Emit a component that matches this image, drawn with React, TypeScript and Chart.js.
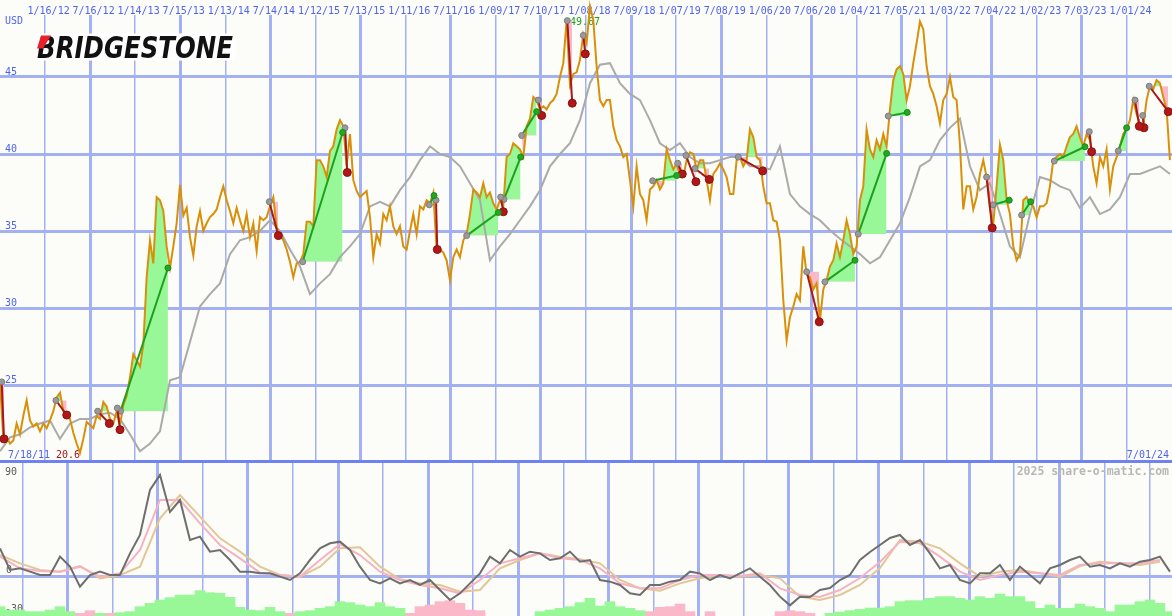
import React, { useEffect, useRef } from 'react';
import { Chart, registerables } from 'chart.js';

Chart.register(...registerables);

// ---------- data ----------
const dateLabels = ['1/16/12','7/16/12','1/14/13','7/15/13','1/13/14','7/14/14','1/12/15','7/13/15','1/11/16','7/11/16','1/09/17','7/10/17','1/08/18','7/09/18','1/07/19','7/08/19','1/06/20','7/06/20','1/04/21','7/05/21','1/03/22','7/04/22','1/02/23','7/03/23','1/01/24'];
const firstDate = '7/18/11';
const lastDate = '7/01/24';
const currency = 'USD';
const priceTicks = [25, 30, 35, 40, 45];
const lowerTickLabels = ['90', '0', '-30'];
const highLabel = '49.67';
const highValue = 49.67;
const highTime = 2018.064;
const lowLabel = '20.6';
const watermark = '2025 share-o-matic.com';

// price samples every ~13.5 days (decimal-year step)
const priceStepYears = 0.036843;
const price = [
  25.2, 21.5, 21.6, 21.2, 21.4, 22.5, 21.8, 23.0, 24.0, 22.7,
  22.3, 22.5, 22.0, 22.5, 22.2, 22.7, 23.3, 24.2, 24.5, 23.3,
  22.9, 22.8, 21.9, 21.2, 20.6, 21.5, 22.6, 22.4, 22.2, 23.0,
  22.8, 23.9, 23.6, 22.8, 22.5, 23.3, 22.4, 23.7, 24.3, 25.5,
  27.0, 26.6, 26.2, 27.6, 32.0, 34.4, 32.9, 37.2, 37.0, 36.3,
  34.0, 32.6, 34.0, 35.5, 38.0, 36.0, 36.5, 34.6, 33.4, 35.3,
  36.3, 35.0, 35.5, 35.9, 36.1, 36.4, 37.2, 37.9, 37.0, 36.3,
  35.5, 36.5, 35.7, 35.0, 36.1, 34.6, 35.5, 33.7, 35.9, 35.7,
  35.9, 36.6, 37.2, 35.2, 34.8, 34.4, 33.8, 33.0,
  32.0, 32.9, 33.0, 33.5, 35.6, 35.6, 35.3, 39.6, 39.6, 39.2,
  38.5, 40.2, 40.5, 41.6, 42.2, 41.8, 39.2, 41.3, 38.3, 37.6,
  37.2, 37.4, 37.6, 35.9, 33.3, 34.8, 34.2, 36.1, 35.7, 36.6,
  35.3, 34.8, 35.3, 34.0, 33.8, 35.0, 36.1, 34.8, 36.6, 36.4,
  37.0, 36.8, 37.5, 33.8, 33.8, 33.6, 33.1, 31.8, 33.3, 33.8,
  33.3, 34.4, 34.8, 36.1, 37.7, 37.5, 37.2, 38.1, 37.2, 37.5,
  36.8, 36.4, 37.0, 36.6, 39.8, 40.0, 40.7, 40.5, 40.3, 39.8,
  41.8, 42.3, 43.7, 43.5, 42.9, 43.1, 42.9, 43.3, 43.5, 43.9,
  45.0, 45.9, 48.7, 44.5, 45.2, 45.3, 46.1,
  47.8, 47.2, 49.6, 48.7, 45.7, 43.5, 43.1, 43.5, 43.5, 41.8,
  40.9, 40.5, 39.8, 40.0, 38.3, 36.6, 39.2, 37.4, 37.0, 35.7,
  37.7, 37.9, 38.3, 37.7, 38.1, 40.3, 39.6, 39.0, 39.4, 38.5,
  38.5, 39.6, 40.1, 40.0, 39.0, 39.6, 39.6, 38.3, 37.0, 38.7,
  39.0, 39.4, 39.0, 38.5, 37.4, 37.4, 39.6, 39.8, 39.2, 39.6,
  41.6, 41.1, 39.8, 39.6, 37.9, 36.8, 36.8, 35.7, 35.6, 34.4,
  30.5, 27.9, 29.4, 30.1, 30.9, 30.5, 34.0, 32.2, 32.0, 31.2,
  31.6, 29.2, 31.2, 31.8, 32.7, 33.1, 34.2, 33.3, 34.4, 35.7,
  34.8, 33.5, 34.0, 37.0, 37.9, 41.6, 40.3,
  39.8, 40.9, 40.3, 41.3, 40.5, 42.9, 44.8, 45.5, 45.7, 45.2,
  43.5, 44.4, 45.9, 47.2, 48.6, 48.1, 45.7, 44.4, 43.9, 43.1,
  42.0, 43.5, 43.9, 45.0, 43.7, 43.5, 40.6, 36.4, 37.9, 37.9,
  36.4, 37.2, 38.7, 39.6, 38.5, 36.5, 35.5, 37.9, 40.6, 39.6,
  37.0, 36.1, 34.0, 33.1, 33.5, 37.0, 37.2, 36.8, 36.6, 35.9,
  36.6, 36.6, 36.8, 37.9, 39.6, 39.8, 40.0, 39.8, 40.5, 41.1,
  41.3, 41.8, 41.1, 40.5, 41.3, 40.9, 39.2, 38.1, 39.8, 39.2,
  40.3, 37.7, 39.2, 39.8, 40.5, 41.3, 41.6, 42.2, 43.5, 42.6,
  42.0, 41.8, 43.5, 44.4, 44.2, 44.8, 44.6, 43.7, 42.9, 39.6,
];

// moving average of price, every 3 price steps
const priceAverage = [
  20.7, 21.6, 21.8, 22.25, 22.5, 22.7, 21.5, 22.5, 22.8, 22.8,
  23.1, 23.2, 22.8, 21.8, 20.7, 21.2, 22.0, 25.3, 25.5, 27.8,
  30.1, 30.9, 31.6, 33.5, 34.4, 34.6, 35.0, 35.7, 35.0, 33.8,
  32.7, 30.9, 31.6, 32.2, 33.3, 34.0, 34.8, 36.6, 36.9, 36.6,
  37.65, 38.5, 39.6, 40.5, 40.0, 39.8, 39.2, 38.1, 37.0, 33.1,
  34.0, 34.8, 35.7, 36.6, 37.65, 39.2, 40.0, 40.7, 42.2, 44.6,
  45.8, 45.9, 44.6, 43.9, 43.5, 42.2, 40.7, 40.25, 40.7, 39.8,
  39.4, 39.4, 39.6, 39.8, 39.8, 39.2, 39.2, 39.0, 40.5, 37.4,
  36.6, 36.1, 35.7, 35.05, 34.5, 34.0, 33.5, 32.9, 33.3, 34.4,
  35.5, 37.2, 39.2, 39.6, 40.9, 41.7, 42.3, 39.2, 37.65, 38.1,
  36.1, 34.0, 33.3, 36.1, 38.5, 38.3, 37.9, 37.65, 36.5, 37.2,
  36.1, 36.4, 37.2, 38.7, 38.7, 38.95, 39.2, 38.7,
];

// momentum oscillator, every 3 price steps
const momentum = [
  20.75, 4.5, 5.75, 3.25, 0.75, 0.75, 14.5, 7, -8, 0.75,
  3.25, 0.75, 0.75, 17, 30.75, 64.5, 75.75, 48, 57, 27,
  29.5, 18.25, 19.5, 12, 3.25, 3.25, 2, 2, -0.5, -3,
  2, 12, 20.75, 24.5, 25.75, 19.5, 7, -3, -5.5, -1.75,
  -5.5, -3, -6.75, -3, -10.5, -18, -13, -5.5, 2, 14.5,
  9.5, 19.5, 14.5, 18.25, 17, 12, 13.25, 18.25, 10.75, 12,
  -3, -4.25, -6.75, -13, -14.25, -6.75, -6.75, -4.25, -3, 3.25,
  2, -3, 0.75, -1.75, 2, 5.75, -0.5, -6.75, -15.5, -22,
  -15.5, -15.75, -10.5, -9, -3, 0.75, 12, 18, 23.25, 28.5,
  30.75, 23.25, 27, 17, 5.75, 8.25, -3, -5.5, 2, 2,
  8.25, -3, 7, 0.75, -5.5, 5.75, 8.25, 12, 14.5, 7,
  8.25, 5.75, 9.5, 7, 10.75, 12, 14.5, 3.25,
];

// momentum averages, every 6 price steps
const momentumShortAvg = [
  14.5, 5.75, 3.75, 3.25, 7, -0.5, 2, 19.5, 57, 57,
  39.5, 23.25, 13.25, 2.5, 0.75, -0.5, 12, 24, 15.75, 3.25,
  -3, -6.75, -9.25, -13, -3, 9.5, 13.25, 17, 13.25, 12,
  5.75, -5.5, -9.25, -9.25, -3, 0.75, 0.75, 0, 2, -9.25,
  -14.25, -15.75, -10.5, -1.5, 10.5, 25.75, 24.5, 14.5, 3.25, -3,
  0.75, 3.25, 2, 0.75, 8.25, 9.5, 9.5, 9.5, 12,
];
const momentumLongAvg = [
  15.75, 9.5, 4.5, 3.25, 7.5, -1.75, 0.75, 7, 43.25, 60.75,
  44.5, 28.25, 18.25, 7, 0.75, -0.5, 7, 20.75, 21.5, 7,
  -2.5, -5.5, -6.75, -11.75, -10.5, 5.75, 12, 17, 14.5, 12.5,
  9.5, -3, -9.25, -11, -5.5, -1.75, 0.75, -0.5, 0.75, -1.75,
  -15.5, -18, -14.25, -6.75, 6, 27, 25.75, 20.75, 9.5, -0.5,
  3.25, 4.5, 2, -0.5, 7.5, 10.75, 9.5, 8.25, 10.75,
];

// trend strength bars (positive = green, negative = pink), every 3 price steps
const strength = [
  7, 4.5, 4.5, 3.25, 3.25, 4.5, 7, 3.25, -2, -4,
  2, -2, 2.5, 3.25, 7, 9.5, 12, 13.75, 15.75, 15.75,
  19, 17.5, 17, 14, 6.5, 4.5, 4, 6.5, 3.25, -2,
  3.25, 4, 5.75, 7, 10.75, 10, 8.25, 7, 10, 7,
  5.75, -2, -7, -8.25, -10.75, -11.5, -9.5, -4.5, -4, 0,
  0, 0, 0, 0, 3.25, 4.5, 5.75, 7, 10, 13.25,
  7.5, 10.75, 7, 5.75, 4, -3.25, -6.5, -7, -9, -3.25,
  0, -3.25, 0, 0, 0, 0, 0, 0, -3.25, -4,
  -3.25, -2, 0, 2, 3, 4, 5, 6, 6, 7,
  10.75, 11.5, 11.5, 13.25, 14.5, 14.5, 13.25, 12, 14.5, 13.25,
  16.5, 14.5, 14.5, 10.75, 5.75, 8.25, 5.75, 5.75, 9, 7,
  5.75, 3.25, 8.25, 8.25, 10.75, 12, 9.5, 3.25,
];

// trend segments: start [decimal year, price], end [decimal year, price]
const trendStarts = [
  [2011.561, 25.2], [2012.161, 24.0], [2012.622, 23.3], [2012.839, 23.5], [2012.874, 23.3],
  [2014.519, 36.9], [2014.888, 33.0], [2015.356, 41.7], [2016.288, 36.7], [2016.362, 37.0],
  [2016.701, 34.7], [2017.077, 37.2], [2017.113, 37.05], [2017.309, 41.2], [2017.492, 43.5],
  [2017.813, 48.66], [2017.990, 47.7], [2018.757, 38.26], [2019.033, 39.4], [2019.125, 39.9],
  [2019.224, 39.06], [2019.703, 39.8], [2020.459, 32.35], [2020.661, 31.7], [2021.029, 34.8],
  [2021.361, 42.46], [2022.448, 38.5], [2022.521, 36.7], [2022.835, 36.03], [2023.196, 39.54],
  [2023.583, 41.45], [2023.903, 40.2], [2024.088, 43.5], [2024.173, 42.5], [2024.246, 44.4],
];
const trendEnds = [
  [2011.587, 21.5], [2012.280, 23.05], [2012.751, 22.5], [2012.869, 22.1], [2013.399, 32.6],
  [2014.619, 34.7], [2015.330, 41.4], [2015.381, 38.8], [2016.340, 37.3], [2016.376, 33.8],
  [2017.050, 36.2], [2017.106, 36.25], [2017.298, 39.8], [2017.475, 42.75], [2017.530, 42.5],
  [2017.868, 43.3], [2018.012, 46.5], [2019.022, 38.6], [2019.084, 38.7], [2019.235, 38.2],
  [2019.382, 38.35], [2019.973, 38.9], [2020.598, 29.1], [2020.993, 33.1], [2021.343, 40.04],
  [2021.571, 42.7], [2022.510, 35.2], [2022.698, 37.0], [2022.935, 36.9], [2023.535, 40.47],
  [2023.609, 40.15], [2023.996, 41.7], [2024.136, 41.8], [2024.187, 41.7], [2024.456, 42.75],
];

// ---------- styles ----------
const BG = '#fcfdf9';
const GRID = '#a3b1f3';
const SEP = '#6f82ee';
const BLUE = '#4f63ee';
const ORANGE = '#d8900a';
const AVG_GRAY = '#aaaaaa';
const FILL_GREEN = '#98f898';
const FILL_PINK = '#fbb8c8';
const UP = '#1f9f1f';
const DOWN = '#a81818';
const MOM = '#6e6e6e';
const MA_SHORT = '#f6b2c2';
const MA_LONG = '#e2c696';
const MONO = '"DejaVu Sans Mono", monospace';

function toYear(s: string): number {
  const [m, d, y] = s.split('/').map(Number);
  const yr = 2000 + y;
  const s0 = Date.UTC(yr, 0, 1);
  const days = (Date.UTC(yr, m - 1, d) - s0) / 86400000;
  const len = (Date.UTC(yr + 1, 0, 1) - s0) / 86400000;
  return yr + days / len;
}

const START = toYear(firstDate);
const END = toYear(lastDate);
const tPrice = (i: number) => START + i * priceStepYears;

function xScale() {
  return {
    type: 'linear' as const,
    min: START,
    max: END,
    display: true,
    afterBuildTicks: (axis: any) => {
      axis.ticks = dateLabels.map((l) => ({ value: toYear(l) }));
    },
    ticks: { display: false },
    grid: {
      drawTicks: false,
      color: GRID,
      lineWidth: (c: any) => (dateLabels[c.index] && dateLabels[c.index].startsWith('7/') ? 3 : 1.5),
    },
    border: { display: false },
  };
}

const topDecor = {
  id: 'topDecor',
  beforeDraw(chart: any) {
    const { ctx, width, height } = chart;
    ctx.save();
    ctx.fillStyle = BG;
    ctx.fillRect(0, 0, width, height);
    ctx.restore();
  },
  beforeDatasetsDraw(chart: any) {
    const { ctx, width } = chart;
    const xs = chart.scales.x;
    const ys = chart.scales.y;
    ctx.save();
    ctx.fillStyle = BG;
    ctx.fillRect(0, 0, width, 15);
    ctx.font = `10px ${MONO}`;
    ctx.fillStyle = BLUE;
    ctx.textAlign = 'center';
    ctx.textBaseline = 'alphabetic';
    dateLabels.forEach((l) => ctx.fillText(l, xs.getPixelForValue(toYear(l)) + 3.5, 13.5));
    ctx.textAlign = 'left';
    ctx.fillText(currency, 5, 24);
    priceTicks.forEach((v) => ctx.fillText(String(v), 5, ys.getPixelForValue(v) - 2));
    ctx.fillText(firstDate, 8, 457.5);
    ctx.fillStyle = '#a01818';
    ctx.fillText(lowLabel, 56, 457.5);
    ctx.fillStyle = BLUE;
    ctx.textAlign = 'right';
    ctx.fillText(lastDate, 1169, 458);
    ctx.textAlign = 'left';
    ctx.fillStyle = UP;
    ctx.fillText(highLabel, xs.getPixelForValue(highTime) - 20, ys.getPixelForValue(highValue) + 20);

    // logo
    ctx.fillStyle = '#ffffff';
    ctx.fillRect(35, 33.5, 200, 27);
    ctx.font = `italic bold 31px "DejaVu Sans"`;
    const w = ctx.measureText('BRIDGESTONE').width;
    ctx.save();
    ctx.translate(37, 58);
    ctx.scale(196 / w, 1);
    ctx.fillStyle = '#111111';
    ctx.fillText('BRIDGESTONE', 0, 0);
    ctx.restore();
    ctx.fillStyle = '#e8202a';
    ctx.beginPath();
    ctx.moveTo(41, 35.5);
    ctx.lineTo(51, 35.5);
    ctx.lineTo(43, 48.5);
    ctx.lineTo(37, 48.5);
    ctx.closePath();
    ctx.fill();
    ctx.restore();
  },
  afterDraw(chart: any) {
    const { ctx, width } = chart;
    ctx.save();
    ctx.fillStyle = SEP;
    ctx.fillRect(0, 460, width, 2);
    ctx.restore();
  },
};

const bottomDecor = {
  id: 'bottomDecor',
  beforeDraw(chart: any) {
    const { ctx, width, height } = chart;
    ctx.save();
    ctx.fillStyle = BG;
    ctx.fillRect(0, 0, width, height);
    ctx.restore();
  },
  beforeDatasetsDraw(chart: any) {
    const { ctx } = chart;
    ctx.save();
    ctx.font = `10px ${MONO}`;
    ctx.fillStyle = '#5a5a5a';
    ctx.textAlign = 'left';
    ctx.fillText(lowerTickLabels[0], 5, 13);
    ctx.fillText(lowerTickLabels[1], 6, 111);
    ctx.fillText(lowerTickLabels[2], 5, 150);
    ctx.font = `bold 11.5px ${MONO}`;
    ctx.fillStyle = '#b8b8b8';
    ctx.textAlign = 'right';
    ctx.fillText(watermark, 1169, 13);
    ctx.restore();
  },
  afterDraw(chart: any) {
    const { ctx, width } = chart;
    ctx.save();
    ctx.fillStyle = SEP;
    ctx.fillRect(0, 0, width, 1);
    ctx.restore();
  },
};

function topConfig(): any {
  const datasets: any[] = [];
  trendStarts.forEach((s, k) => {
    const e = trendEnds[k];
    const inside = price
      .map((v, i) => ({ x: tPrice(i), y: v }))
      .filter((p) => p.x > s[0] && p.x < e[0]);
    datasets.push({
      type: 'line',
      data: [{ x: s[0], y: s[1] }, ...inside, { x: e[0], y: e[1] }],
      borderWidth: 0,
      pointRadius: 0,
      tension: 0,
      fill: { target: { value: s[1] }, above: FILL_GREEN, below: FILL_PINK },
      order: 10,
    });
  });
  datasets.push({
    type: 'line',
    data: priceAverage.map((v, j) => ({ x: tPrice(3 * j), y: v })),
    borderColor: AVG_GRAY,
    borderWidth: 2,
    pointRadius: 0,
    tension: 0,
    fill: false,
    order: 6,
  });
  datasets.push({
    type: 'line',
    data: price.map((v, i) => ({ x: tPrice(i), y: v })),
    borderColor: ORANGE,
    borderWidth: 2,
    pointRadius: 0,
    tension: 0,
    fill: false,
    order: 4,
  });
  trendStarts.forEach((s, k) => {
    const e = trendEnds[k];
    const up = e[1] > s[1];
    datasets.push({
      type: 'line',
      data: [{ x: s[0], y: s[1] }, { x: e[0], y: e[1] }],
      borderColor: up ? UP : DOWN,
      borderWidth: 2,
      tension: 0,
      fill: false,
      pointRadius: [3, up ? 3 : 4],
      pointBackgroundColor: ['#9a9a9a', up ? '#22a822' : '#b01818'],
      pointBorderColor: ['#7c7c7c', up ? '#1a8a1a' : '#8a1010'],
      pointBorderWidth: 1,
      order: 1,
    });
  });
  return {
    type: 'line',
    data: { datasets },
    options: {
      animation: false,
      responsive: false,
      maintainAspectRatio: false,
      devicePixelRatio: 1,
      events: [],
      layout: { padding: 0, autoPadding: false },
      plugins: { legend: { display: false }, tooltip: { enabled: false } },
      scales: {
        x: xScale(),
        y: {
          type: 'linear',
          min: 20,
          max: 50,
          afterBuildTicks: (axis: any) => {
            axis.ticks = priceTicks.map((v) => ({ value: v }));
          },
          ticks: { display: false },
          grid: { drawTicks: false, color: GRID, lineWidth: 3 },
          border: { display: false },
        },
      },
    },
    plugins: [topDecor],
  };
}

function bottomConfig(): any {
  const green = strength
    .map((v, j) => ({ x: tPrice(3 * j), y: [-30, -30 + v], v }))
    .filter((p) => p.v > 0)
    .map(({ x, y }) => ({ x, y }));
  const pink = strength
    .map((v, j) => ({ x: tPrice(3 * j), y: [-30, -30 - v], v }))
    .filter((p) => p.v < 0)
    .map(({ x, y }) => ({ x, y }));
  const datasets: any[] = [
    {
      type: 'bar',
      data: green,
      backgroundColor: FILL_GREEN,
      borderWidth: 0,
      barPercentage: 1,
      categoryPercentage: 1,
      grouped: false,
      order: 10,
    },
    {
      type: 'bar',
      data: pink,
      backgroundColor: FILL_PINK,
      borderWidth: 0,
      barPercentage: 1,
      categoryPercentage: 1,
      grouped: false,
      order: 10,
    },
    {
      type: 'line',
      data: momentumLongAvg.map((v, k) => ({ x: tPrice(6 * k), y: v })),
      borderColor: MA_LONG,
      borderWidth: 2,
      pointRadius: 0,
      tension: 0,
      fill: false,
      order: 5,
    },
    {
      type: 'line',
      data: momentumShortAvg.map((v, k) => ({ x: tPrice(6 * k), y: v })),
      borderColor: MA_SHORT,
      borderWidth: 2,
      pointRadius: 0,
      tension: 0,
      fill: false,
      order: 4,
    },
    {
      type: 'line',
      data: momentum.map((v, j) => ({ x: tPrice(3 * j), y: v })),
      borderColor: MOM,
      borderWidth: 2,
      pointRadius: 0,
      tension: 0,
      fill: false,
      order: 2,
    },
  ];
  return {
    type: 'bar',
    data: { datasets },
    options: {
      animation: false,
      responsive: false,
      maintainAspectRatio: false,
      devicePixelRatio: 1,
      events: [],
      layout: { padding: 0, autoPadding: false },
      plugins: { legend: { display: false }, tooltip: { enabled: false } },
      scales: {
        x: { ...xScale(), offset: false },
        y: {
          type: 'linear',
          min: -30,
          max: 85.5,
          afterBuildTicks: (axis: any) => {
            axis.ticks = [{ value: 0 }];
          },
          ticks: { display: false },
          grid: { drawTicks: false, color: GRID, lineWidth: 3 },
          border: { display: false },
        },
      },
    },
    plugins: [bottomDecor],
  };
}

export default function App() {
  const topRef = useRef<HTMLCanvasElement>(null);
  const bottomRef = useRef<HTMLCanvasElement>(null);
  useEffect(() => {
    const top = new Chart(topRef.current as HTMLCanvasElement, topConfig());
    const bottom = new Chart(bottomRef.current as HTMLCanvasElement, bottomConfig());
    return () => {
      top.destroy();
      bottom.destroy();
    };
  }, []);
  return (
    <div style={{ position: 'absolute', left: 0, top: 0, width: 1172, height: 616, background: BG }}>
      <canvas
        ref={topRef}
        width={1172}
        height={462}
        style={{ position: 'absolute', left: 0, top: 0, width: 1172, height: 462 }}
      />
      <canvas
        ref={bottomRef}
        width={1172}
        height={154}
        style={{ position: 'absolute', left: 0, top: 462, width: 1172, height: 154 }}
      />
    </div>
  );
}
